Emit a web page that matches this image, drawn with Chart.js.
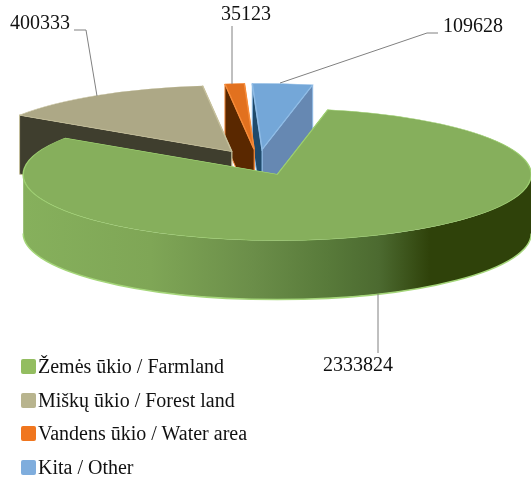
<!DOCTYPE html>
<html>
<head>
<meta charset="utf-8">
<style>
    html, body { margin: 0; padding: 0; background: #fff; }
    #wrap { position: relative; width: 531px; height: 477px; overflow: hidden; }
    #legend { position: absolute; left: 21px; top: 350px; font: 20px "Liberation Serif", serif; color: #111; }
    #legend div { height: 33.6px; line-height: 33.6px; white-space: nowrap; }
    #legend span { display: inline-block; width: 15px; height: 15px; border-radius: 2px; margin-right: 2px; vertical-align: -1px; }
</style>
</head>
<body>
<div id="wrap">
    <canvas id="pie" width="531" height="477"></canvas>
    <div id="legend"></div>
</div>
<script src="https://cdn.jsdelivr.net/npm/chart.js@4"></script>
<script>
const categories = ['Žemės ūkio / Farmland', 'Miškų ūkio / Forest land', 'Vandens ūkio / Water area', 'Kita / Other'];
const values = [2333824, 400333, 35123, 109628];

const top_colors = ['#86af5c', '#ada886', '#e2711f', '#74a7d8'];
const rim_colors = ['#9dcf70', '#c6c09c', '#f58b3a', '#8fbce6'];
const legend_colors = ['#93bd60', '#b8b48e', '#f0761f', '#7faddd'];
const start_walls = ['#86af5c', '#3f3e2e', '#5a2800', '#1f4a6b'];
const end_walls = ['#86af5c', '#ada886', '#e2711f', '#6688b2'];

// back to front, the farmland slice is nearest to the viewer
const paint_order = [3, 2, 1, 0];

const pie_center = { x: 258, y: 162.5 };
const squash = 0.26;
const explode = 50;
const depth = 59;

// value label, text position, then the leader line
const callouts = [
    { index: 0, x: 323, y: 366, line: [[378, 294], [378, 353]] },
    { index: 1, x: 10, y: 24, line: [[74, 30], [86, 30], [97, 96]] },
    { index: 2, x: 221, y: 15, line: [[232, 26], [232, 84]] },
    { index: 3, x: 443, y: 27, line: [[438, 33], [427, 33], [280, 83]] }
];

function wall_gradient(ctx) {
    const gradient = ctx.createLinearGradient(24, 0, 531, 0);
    gradient.addColorStop(0, '#86b05c');
    gradient.addColorStop(0.25, '#7fa656');
    gradient.addColorStop(0.45, '#6b8e49');
    gradient.addColorStop(0.6, '#587a3a');
    gradient.addColorStop(0.7, '#4c6a30');
    gradient.addColorStop(0.8, '#2f420a');
    gradient.addColorStop(1, '#2f420a');
    return gradient;
}

function draw_radial_wall(ctx, px, py, radius, angle, color, rim) {
    const ex = px + Math.cos(angle) * radius;
    const ey = py + Math.sin(angle) * radius * squash;

    ctx.beginPath();
    ctx.moveTo(px, py);
    ctx.lineTo(ex, ey);
    ctx.lineTo(ex, ey + depth);
    ctx.lineTo(px, py + depth);
    ctx.closePath();
    ctx.fillStyle = color;
    ctx.fill();
    ctx.strokeStyle = rim;
    ctx.lineWidth = 1;
    ctx.stroke();
}

function draw_outer_wall(ctx, px, py, radius, start, end) {
    const a0 = Math.max(start, 0);
    const a1 = Math.min(end, Math.PI);

    if (a1 <= a0) {
        return;
    }

    const ry = radius * squash;

    ctx.beginPath();
    ctx.ellipse(px, py + depth, radius, ry, 0, a0, a1);
    ctx.ellipse(px, py, radius, ry, 0, a1, a0, true);
    ctx.closePath();
    ctx.fillStyle = wall_gradient(ctx);
    ctx.fill();

    ctx.beginPath();
    ctx.ellipse(px, py + depth, radius, ry, 0, a0, a1);
    ctx.strokeStyle = '#a5d67a';
    ctx.lineWidth = 1.5;
    ctx.stroke();
}

const pie_3d = {
    id: 'pie_3d',
    beforeDatasetDraw(chart, args) {
        const ctx = chart.ctx;
        const arcs = args.meta.data;

        paint_order.forEach((i) => {
            const arc = arcs[i];
            const mid = (arc.startAngle + arc.endAngle) / 2;
            const px = pie_center.x + Math.cos(mid) * explode;
            const py = pie_center.y + Math.sin(mid) * explode * squash;

            // end wall first, the start wall hides what is left of it below the apex
            draw_radial_wall(ctx, px, py, arc.outerRadius, arc.endAngle, end_walls[i], rim_colors[i]);
            draw_radial_wall(ctx, px, py, arc.outerRadius, arc.startAngle, start_walls[i], rim_colors[i]);
            draw_outer_wall(ctx, px, py, arc.outerRadius, arc.startAngle, arc.endAngle);

            ctx.save();
            ctx.translate(px, py);
            ctx.scale(1, squash);
            ctx.translate(-arc.x, -arc.y);
            arc.draw(ctx);
            ctx.restore();
        });

        return false;
    },
    afterDraw(chart) {
        const ctx = chart.ctx;

        ctx.save();
        callouts.forEach((c) => {
            ctx.beginPath();
            c.line.forEach((p, n) => {
                if (n === 0) {
                    ctx.moveTo(p[0], p[1]);
                } else {
                    ctx.lineTo(p[0], p[1]);
                }
            });
            ctx.strokeStyle = '#808080';
            ctx.lineWidth = 1;
            ctx.stroke();

            ctx.fillStyle = '#111';
            ctx.font = '20px "Liberation Serif", serif';
            ctx.textBaseline = 'middle';
            ctx.fillText(String(values[c.index]), c.x, c.y);
        });
        ctx.restore();
    }
};

new Chart(document.getElementById('pie'), {
    type: 'pie',
    data: {
        labels: categories,
        datasets: [{
            data: values,
            backgroundColor: top_colors,
            borderColor: rim_colors,
            borderWidth: 1.5,
            borderJoinStyle: 'miter'
        }]
    },
    options: {
        responsive: false,
        animation: false,
        rotation: 11.5,
        radius: 254,
        plugins: {
            legend: { display: false },
            tooltip: { enabled: false }
        }
    },
    plugins: [pie_3d]
});

const legend = document.getElementById('legend');

categories.forEach((name, i) => {
    const row = document.createElement('div');
    const box = document.createElement('span');
    box.style.background = legend_colors[i];
    row.appendChild(box);
    row.appendChild(document.createTextNode(name));
    legend.appendChild(row);
});
</script>
</body>
</html>
